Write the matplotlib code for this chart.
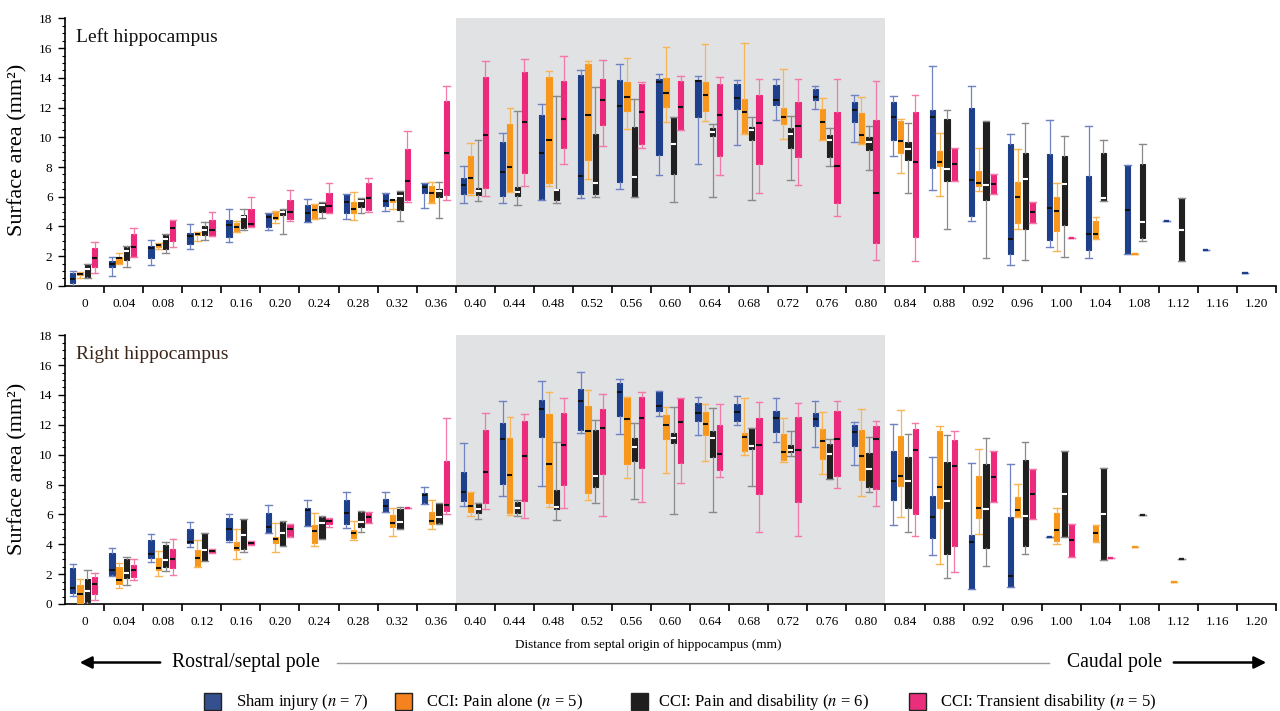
import matplotlib
matplotlib.use("Agg")
import numpy as np
import matplotlib.pyplot as plt
from matplotlib.patches import Rectangle, FancyArrowPatch
from matplotlib.lines import Line2D
from matplotlib.ticker import MultipleLocator, FixedLocator

plt.rcParams['font.family'] = ['Liberation Serif', 'DejaVu Serif']
plt.rcParams['mathtext.fontset'] = 'stix'

# --- data: (whisker low, Q1, median, Q3, whisker high); a bare number = single value ---
DISTANCES = ['0'] + ['%.2f' % (0.04 * i) for i in range(1, 31)]
GROUPS = ['Sham injury', 'CCI: Pain alone', 'CCI: Pain and disability', 'CCI: Transient disability']
GROUP_N = [7, 5, 6, 5]

LEFT_SHAM = [
    (0.0, 0.16, 0.43, 0.83, 1.0), (0.65, 1.28, 1.5, 1.66, 1.95), (1.39, 1.88, 2.56, 2.67, 3.07),
    (2.45, 2.8, 3.34, 3.59, 4.15), (2.96, 3.3, 4.08, 4.42, 5.2), (3.75, 3.97, 4.64, 4.87, 4.87),
    (4.3, 4.3, 4.87, 5.43, 5.83), (4.53, 4.87, 5.65, 6.21, 6.21), (5.02, 5.36, 5.7, 6.21, 6.26),
    (5.27, 6.26, 6.66, 6.93, 6.93), (5.59, 6.17, 6.77, 7.29, 8.08), (5.61, 6.03, 7.65, 9.71, 10.32),
    (5.81, 5.83, 8.95, 11.53, 12.27), (5.9, 6.17, 7.38, 14.2, 14.51), (6.5, 7.0, 12.09, 13.84, 14.96),
    (7.45, 8.79, 13.7, 13.95, 14.24), (8.17, 11.37, 13.8, 13.88, 14.11), (9.47, 11.93, 12.67, 13.62, 13.84),
    (11.15, 12.2, 12.49, 13.55, 13.93), (11.93, 12.49, 12.74, 13.26, 13.46), (9.69, 11.01, 11.82, 12.38, 12.85),
    (8.75, 9.85, 11.37, 12.38, 12.76), (6.48, 7.9, 11.4, 11.82, 14.78), (4.37, 4.69, 7.11, 12.0, 13.44),
    (1.39, 2.11, 3.12, 9.53, 10.25), (2.62, 3.07, 5.27, 8.86, 11.19), (1.88, 2.4, 3.48, 7.4, 10.77),
    (2.11, 2.11, 5.09, 8.12, 8.12), 4.37, 2.4, 0.83,
]
LEFT_PAIN = [
    (0.55, 0.72, 0.8, 0.86, 0.9), (1.46, 1.5, 1.84, 1.95, 2.18), (2.45, 2.62, 2.74, 2.85, 2.9),
    (3.03, 3.41, 3.52, 3.59, 3.63), (3.63, 3.63, 3.97, 4.24, 4.35), (4.24, 4.53, 4.6, 4.98, 5.02),
    (4.53, 4.53, 5.09, 5.54, 5.54), (4.46, 4.87, 5.2, 5.65, 6.33), (5.14, 5.65, 5.76, 5.81, 5.81),
    (5.59, 5.65, 6.26, 6.71, 7.0), (6.1, 6.26, 7.27, 8.75, 9.65), (6.3, 6.3, 8.0, 10.92, 11.98),
    (6.71, 6.89, 9.85, 14.06, 14.45), (7.22, 8.5, 11.5, 14.96, 15.12), (10.54, 11.75, 12.74, 13.7, 15.37),
    (11.04, 12.05, 12.99, 14.0, 16.08), (11.1, 11.78, 12.85, 13.75, 16.31), (10.21, 10.32, 11.69, 12.56, 16.38),
    (9.91, 10.88, 11.37, 11.98, 14.58), (9.8, 9.8, 11.01, 11.93, 12.63), (9.53, 9.53, 10.18, 11.64, 12.72),
    (7.63, 8.95, 9.74, 11.08, 11.22), (6.06, 8.08, 8.32, 9.08, 10.32), (6.37, 6.73, 6.93, 7.72, 9.31),
    (3.81, 4.26, 5.97, 7.0, 9.24), (2.33, 3.7, 5.07, 5.99, 6.89), (3.16, 3.16, 3.48, 4.35, 4.64),
    2.13, None, None, None,
]
LEFT_DIS = [
    (0.55, 0.6, 1.1, 1.5, 1.5), (1.28, 1.73, 2.36, 2.62, 2.65), (2.24, 2.51, 3.14, 3.45, 3.52),
    (3.07, 3.41, 3.75, 4.0, 4.3), (3.75, 3.86, 4.64, 4.75, 5.2), (3.52, 4.75, 4.98, 5.09, 5.2),
    (4.6, 4.98, 5.43, 5.65, 5.65), (4.87, 5.32, 5.72, 5.88, 5.94), (4.37, 5.09, 6.03, 6.37, 6.37),
    (4.6, 5.99, 6.39, 6.55, 7.0), (5.72, 6.1, 6.37, 6.6, 9.85), (5.45, 6.03, 6.33, 6.66, 11.78),
    (5.59, 5.81, 6.44, 6.55, 12.79), (5.99, 6.21, 6.93, 10.25, 13.39), (5.99, 5.99, 7.33, 10.7, 12.61),
    (5.65, 7.51, 9.58, 11.37, 11.37), (5.99, 10.12, 10.39, 10.65, 10.88), (5.81, 9.8, 10.48, 10.7, 11.37),
    (7.11, 9.31, 10.25, 10.65, 11.42), (8.08, 8.68, 9.8, 10.14, 10.65), (7.78, 9.13, 9.69, 10.03, 10.74),
    (6.26, 8.46, 9.2, 9.69, 10.97), (3.84, 7.04, 7.85, 11.24, 11.82), (1.88, 5.76, 6.77, 11.08, 11.08),
    (1.77, 3.81, 7.16, 8.95, 10.99), (1.91, 4.08, 6.86, 8.75, 10.09), (5.7, 5.7, 5.94, 8.91, 9.85),
    (3.03, 3.25, 4.31, 8.23, 9.53), (1.66, 1.66, 3.79, 5.92, 5.92), None, None,
]
LEFT_TRANS = [
    (0.87, 1.28, 1.88, 2.58, 2.96), (1.95, 1.95, 2.62, 3.48, 3.9), (2.62, 3.03, 3.9, 4.42, 4.42),
    (3.34, 3.34, 3.75, 4.46, 4.98), (3.97, 3.97, 4.19, 5.14, 5.99), (4.37, 4.53, 4.98, 5.76, 6.44),
    (4.91, 4.91, 5.36, 6.26, 6.93), (4.98, 5.09, 5.94, 6.89, 7.29), (5.65, 5.81, 7.07, 9.24, 10.43),
    (5.76, 6.1, 8.95, 12.43, 13.48), (6.03, 6.62, 10.14, 14.06, 15.14), (6.71, 7.6, 11.06, 14.4, 15.3),
    (8.17, 9.26, 11.26, 13.8, 15.46), (9.4, 10.81, 12.54, 13.95, 15.19), (9.29, 9.58, 11.71, 13.57, 13.7),
    (10.48, 10.48, 12.05, 13.77, 14.11), (7.47, 8.75, 11.53, 13.57, 14.06), (6.28, 8.19, 10.97, 12.83, 13.91),
    (6.77, 8.68, 10.74, 12.4, 13.95), (4.69, 5.61, 8.05, 11.73, 13.91), (1.73, 2.85, 6.28, 11.15, 13.77),
    (1.66, 3.3, 8.34, 11.71, 12.83), (7.04, 7.04, 8.19, 9.31, 9.31), (6.21, 6.21, 6.86, 7.51, 7.51),
    (4.26, 4.26, 4.98, 5.65, 5.65), 3.19, None, None, None, None, None,
]

RIGHT_SHAM = [
    (0.54, 0.71, 1.09, 2.39, 2.66), (1.88, 1.94, 2.28, 3.44, 3.73), (2.84, 3.06, 3.35, 4.29, 4.69),
    (3.8, 4.06, 4.17, 5.0, 5.47), (4.13, 4.29, 5.0, 5.74, 6.0), (4.73, 4.73, 5.18, 6.07, 6.63),
    (5.22, 5.22, 6.3, 6.41, 6.97), (5.07, 5.36, 6.07, 6.97, 7.48), (6.18, 6.18, 6.59, 7.01, 7.52),
    (6.7, 6.79, 7.3, 7.46, 7.86), (6.59, 6.92, 7.48, 8.86, 10.76), (7.23, 8.04, 11.03, 12.1, 13.62),
    (7.9, 11.21, 13.04, 13.66, 14.91), (11.48, 11.65, 13.6, 14.4, 15.52), (11.36, 12.59, 14.18, 14.78, 15.05),
    (12.59, 12.95, 13.26, 14.27, 14.27), (11.32, 12.26, 12.77, 13.44, 13.89), (11.99, 12.28, 12.88, 13.4, 13.93),
    (10.87, 11.54, 12.48, 12.95, 13.78), (10.54, 11.92, 12.39, 12.82, 13.62), (9.31, 10.58, 11.54, 11.99, 12.21),
    (5.29, 6.97, 8.26, 10.25, 12.03), (3.28, 4.4, 5.85, 7.26, 9.87), (0.98, 0.98, 4.13, 4.62, 9.47),
    (1.16, 1.16, 1.88, 5.85, 9.35), 4.51, None, None, None, None, None,
]
RIGHT_PAIN = [
    (0.0, 0.0, 0.67, 1.27, 1.7), (1.05, 1.34, 1.61, 2.46, 2.77), (1.88, 2.28, 2.39, 3.06, 3.55),
    (2.5, 2.55, 3.1, 3.62, 4.29), (3.01, 3.62, 3.73, 4.17, 5.0), (3.46, 4.11, 4.35, 4.47, 5.4),
    (3.88, 4.11, 4.89, 5.29, 6.12), (4.29, 4.4, 4.73, 4.96, 5.56), (4.55, 5.13, 5.4, 5.96, 6.41),
    (5.04, 5.36, 5.56, 6.18, 6.97), (5.92, 6.18, 6.59, 7.52, 7.52), (5.96, 6.12, 8.64, 11.1, 12.5),
    (6.47, 6.74, 9.35, 12.73, 14.18), (6.97, 7.46, 11.61, 13.26, 14.33), (8.46, 9.38, 12.39, 13.89, 13.89),
    (8.8, 11.03, 11.99, 12.66, 13.17), (9.6, 11.32, 12.06, 12.84, 13.4), (9.98, 10.27, 11.16, 11.48, 13.78),
    (9.53, 9.64, 10.16, 11.39, 12.44), (8.69, 9.69, 10.94, 11.7, 12.88), (7.23, 8.31, 9.91, 11.65, 13.04),
    (5.8, 7.9, 8.57, 11.25, 12.99), (2.66, 6.41, 7.86, 11.59, 11.94), (4.69, 5.74, 6.41, 8.6, 10.38),
    (5.85, 5.85, 6.27, 7.14, 8.02), (4.0, 4.22, 4.96, 6.07, 6.45), (4.13, 4.13, 4.73, 5.29, 5.29),
    3.8, 1.45, None, None,
]
RIGHT_DIS = [
    (0.0, 0.16, 0.89, 1.65, 2.28), (1.27, 1.72, 2.05, 2.99, 3.17), (2.23, 2.5, 2.95, 3.95, 4.17),
    (2.9, 2.9, 3.62, 4.73, 4.73), (3.5, 3.66, 4.62, 5.67, 5.67), (3.88, 3.88, 4.73, 5.51, 5.58),
    (4.33, 4.33, 5.45, 5.8, 5.89), (4.84, 5.13, 5.51, 6.18, 6.23), (5.0, 5.0, 5.51, 6.34, 6.52),
    (5.36, 5.4, 5.85, 6.74, 6.79), (5.69, 6.12, 6.36, 6.74, 6.74), (5.89, 6.07, 6.41, 6.85, 6.97),
    (5.63, 6.34, 6.47, 7.64, 10.87), (6.74, 7.86, 8.57, 11.65, 12.32), (7.01, 9.58, 10.49, 11.14, 12.1),
    (6.01, 10.81, 11.1, 11.43, 13.17), (6.18, 9.82, 11.1, 11.59, 13.15), (7.9, 10.38, 10.58, 11.77, 11.77),
    (9.91, 10.2, 10.31, 10.65, 11.59), (8.37, 8.37, 10.02, 10.69, 11.03), (7.48, 7.86, 9.02, 10.09, 11.21),
    (4.84, 6.41, 8.24, 9.82, 11.36), (1.76, 3.33, 6.9, 9.49, 11.32), (2.55, 3.77, 6.34, 9.35, 11.1),
    (3.35, 3.91, 5.89, 9.65, 10.83), (4.47, 4.47, 7.37, 10.25, 10.25), (2.95, 2.95, 6.03, 9.09, 9.09),
    5.96, 2.99, None, None,
]
RIGHT_TRANS = [
    (0.27, 0.67, 1.34, 1.83, 2.1), (1.61, 1.83, 2.28, 2.61, 2.99), (1.94, 2.39, 2.99, 3.66, 4.35),
    (3.44, 3.44, 3.55, 3.66, 3.66), (3.95, 3.95, 4.11, 4.24, 4.24), (4.51, 4.55, 5.0, 5.36, 5.36),
    (5.13, 5.36, 5.56, 5.69, 5.74), (5.4, 5.45, 5.85, 6.07, 6.14), 6.41,
    (6.03, 6.25, 6.63, 9.58, 12.44), (6.36, 6.79, 8.86, 11.65, 12.82), (5.78, 6.92, 9.94, 12.26, 12.7),
    (6.41, 7.97, 10.65, 12.82, 13.78), (5.89, 8.71, 11.81, 13.04, 14.07), (6.85, 9.09, 12.44, 13.84, 14.18),
    (8.08, 9.42, 12.21, 13.78, 13.78), (8.48, 8.98, 10.05, 11.99, 13.4), (4.8, 7.37, 10.63, 12.44, 13.55),
    (4.58, 6.81, 10.31, 12.5, 13.49), (7.75, 8.57, 11.05, 12.95, 13.6), (6.59, 7.68, 11.03, 11.92, 12.26),
    (4.58, 6.03, 10.31, 11.7, 12.15), (2.17, 3.91, 9.24, 10.98, 11.59), (6.81, 6.81, 8.53, 10.25, 10.25),
    (5.67, 5.67, 7.37, 9.02, 9.02), (3.17, 3.17, 4.29, 5.34, 5.34), 3.1, None, None, None, None,
]

# --- styling ---
FACE = ['#1e3f8a', '#f7981d', '#202020', '#ec2a7b']
WHISK = ['#6f82c2', '#f8b455', '#8a8a8a', '#f27aab']
MED = ['#111111', '#111111', '#ffffff', '#111111']
LEG_FACE = ['#34508f', '#f5821f', '#1e1e1e', '#ea2e7c']
OFFSETS = [-0.30, -0.115, 0.075, 0.26]
BOX_W = 0.135
CAP_W = 0.17
SHADE = (9.5, 20.5)


def draw_panel(ax, series, title, title_color):
    ax.axvspan(SHADE[0], SHADE[1], color='#e1e2e4', lw=0, zorder=0)
    for k, data in enumerate(series):
        stats, pos = [], []
        for i, v in enumerate(data):
            if v is None:
                continue
            if not isinstance(v, tuple):
                v = (v,) * 5
            lo, q1, med, q3, hi = v
            stats.append(dict(whislo=lo, q1=q1, med=med, q3=q3, whishi=hi, fliers=[]))
            pos.append(i + OFFSETS[k])
        art = ax.bxp(stats, positions=pos, widths=BOX_W, capwidths=CAP_W,
                     patch_artist=True, showfliers=False, manage_ticks=False,
                     boxprops=dict(facecolor=FACE[k], edgecolor=FACE[k], linewidth=0.8),
                     whiskerprops=dict(color=WHISK[k], linewidth=0.9),
                     capprops=dict(color=WHISK[k], linewidth=1.0),
                     medianprops=dict(color=MED[k], linewidth=1.5, solid_capstyle='butt'),
                     zorder=3)
        # single-value entries: plain coloured dash, no contrasting median
        for s, box, m in zip(stats, art['boxes'], art['medians']):
            if s['q1'] == s['q3']:
                m.set_color(FACE[k])
                box.set_linewidth(1.6)

    ax.set_xlim(-0.5, 30.5)
    ax.set_ylim(0, 18)
    ax.set_xticks(range(len(DISTANCES)))
    ax.set_xticklabels(DISTANCES, fontsize=9.5)
    ax.xaxis.set_minor_locator(FixedLocator(np.arange(0.5, 31, 1.0)))
    ax.tick_params(axis='x', which='major', length=0, pad=9)
    ax.tick_params(axis='x', which='minor', length=5, width=1.2, direction='out')
    ax.set_yticks(range(0, 19, 2))
    ax.yaxis.set_minor_locator(MultipleLocator(0.5))
    ax.tick_params(axis='y', which='major', length=5, width=1.0, labelsize=9.5, pad=4)
    ax.tick_params(axis='y', which='minor', length=2.5, width=0.8)
    for side in ('top', 'right'):
        ax.spines[side].set_visible(False)
    for side in ('left', 'bottom'):
        ax.spines[side].set_linewidth(1.2)
    ax.text(0.009, 0.93, title, transform=ax.transAxes, fontsize=14,
            color=title_color, ha='left', va='center')


fig = plt.figure(figsize=(12.8, 7.11), dpi=100)
ax_top = fig.add_axes([0.0508, 0.598, 0.9462, 0.376])
ax_bot = fig.add_axes([0.0508, 0.1505, 0.9462, 0.378])

draw_panel(ax_top, [LEFT_SHAM, LEFT_PAIN, LEFT_DIS, LEFT_TRANS], 'Left hippocampus', '#111111')
draw_panel(ax_bot, [RIGHT_SHAM, RIGHT_PAIN, RIGHT_DIS, RIGHT_TRANS], 'Right hippocampus', '#3a2518')

for yc in (0.789, 0.34):
    fig.text(0.0137, yc, 'Surface area (mm\u00b2)', rotation=90, fontsize=16,
             ha='center', va='center')

W, H = 1280.0, 711.0
fig.text(648 / W, 1 - 645 / H, 'Distance from septal origin of hippocampus (mm)',
         fontsize=9.5, ha='center', va='center')

# pole arrows
y_row = 1 - 662.5 / H
fig.add_artist(FancyArrowPatch((163 / W, y_row), (77 / W, y_row), transform=fig.transFigure,
                               arrowstyle='-|>', mutation_scale=18, lw=1.8, color='black'))
fig.add_artist(FancyArrowPatch((1171 / W, y_row), (1269 / W, y_row), transform=fig.transFigure,
                               arrowstyle='-|>', mutation_scale=18, lw=1.8, color='black'))
fig.add_artist(Line2D([337 / W, 1049 / W], [y_row, y_row], transform=fig.transFigure,
                      color='#9a9a9a', lw=1.0))
fig.text(172 / W, y_row, 'Rostral/septal pole', fontsize=14.2, ha='left', va='center')
fig.text(1067 / W, y_row, 'Caudal pole', fontsize=14.2, ha='left', va='center')

# legend (text on a shared baseline so descenders don't shift it)
y_leg = 1 - 701.5 / H
y_base = 1 - 706 / H
patch_x = [204, 395, 631, 909]
text_x = [236, 426, 658, 940]
for k in range(4):
    fig.add_artist(Rectangle((patch_x[k] / W, y_leg - 8.5 / H), 17 / W, 17 / H,
                             transform=fig.transFigure, facecolor=LEG_FACE[k],
                             edgecolor='#222222', lw=1.0))
    fig.text(text_x[k] / W, y_base, '%s ($n$ = %d)' % (GROUPS[k], GROUP_N[k]),
             fontsize=12, ha='left', va='baseline')

fig.savefig('out.png', dpi=100)
